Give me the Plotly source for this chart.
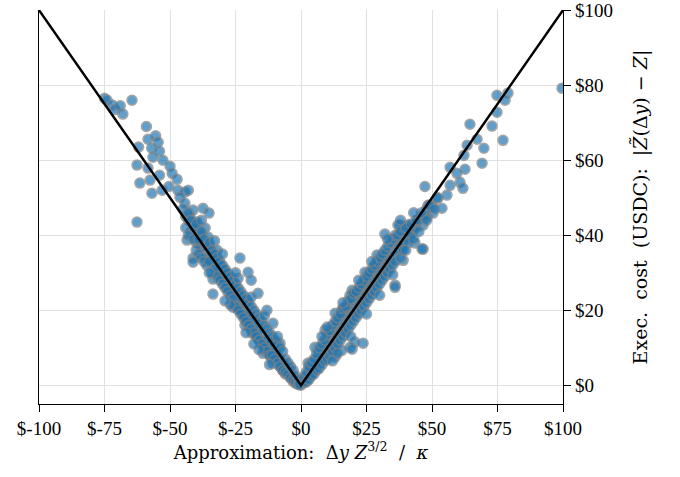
import plotly.graph_objects as go

# Scatter points: approximation (x) vs execution cost (y)
far_x = [-75, -74, -72, -71, -69, -68, -64.5, -59, -58.4, -55.5, -54.5, -62, -57, -54, -56.5, -52.7,
         -62.6, -58.4, -54, -50, -49.2, -47.3, -61.5, -57.6, -56.9, -53, -50.4, -47, -44.3, -43,
         -46.2, -44.3, -41.2, -37.4, -35.1, -42.4, -39.7, -36.6, -62.6, -35.5, -43.5, -32, -38.5,
         -41.2, -41.2, -33.6, -33.6, -23.3, -20.2, -19, -16.4, -20.6, -26, -21.4, -18.7, -13,
         -10.7, -14.5, -10.7, -8, -5.3, -3, -1.1]
far_y = [76.5, 76, 74.7, 73.5, 74.5, 72.3, 76, 69, 65.6, 66.5, 64.8, 63.5, 63.2, 62.4, 60.8, 60,
         58.7, 57.9, 56, 58.4, 56.5, 54.9, 53.9, 54.7, 51.2, 52, 53, 52, 51.5, 52,
         50.1, 48.5, 46.7, 47.2, 45.9, 45, 43.5, 41.9, 43.5, 39.5, 38.7, 36, 37.9,
         33.9, 32.8, 24.3, 28.3, 33.9, 30.1, 28, 24.5, 22.7, 20.8, 16, 13.9, 20,
         16.5, 8.5, 5.9, 11.2, 4, 2.1, 0.5]

band_left_x = [-44, -43, -42, -41, -40, -40, -39, -38, -38, -37, -36, -36, -35, -34, -34, -33, -32, -32,
               -31, -31, -30, -30, -29, -29, -28, -28, -27, -27, -26, -26, -25, -25, -24, -24, -23, -23,
               -22, -22, -21, -21, -20, -20, -19, -19, -18, -18, -17, -17, -16, -16, -15, -15, -14, -14,
               -13, -13, -12, -12, -11, -11, -10, -10, -9, -9, -8, -8, -7, -7, -6, -6, -5, -5, -4, -4,
               -3, -3, -2, -2, -1, -1, 0]
band_left_y = [45, 44, 41, 43, 40, 38, 41, 37, 40, 38, 36, 34, 37, 33, 35, 34, 31, 33,
               30, 32, 31, 29, 28, 30, 29, 26, 27, 25, 26, 24, 25, 22, 24, 21, 23, 20,
               21, 19, 22, 18, 19, 17, 18, 15, 17, 14, 16, 13, 15, 12, 14, 11, 12, 10,
               12, 9, 11, 8, 10, 7, 9, 7, 8, 6, 7, 5, 6, 4, 5, 3, 4, 3, 3, 2,
               2, 1, 1.5, 0.5, 0.5, 0.2, 0]

spread_left_x = [-45, -44, -43, -43, -42, -41, -41, -40, -40, -39, -39, -38, -38, -37, -37, -36, -36,
                 -35, -35, -34, -34, -33, -33, -32, -32, -31, -31, -30, -30, -29, -29, -28, -28, -27,
                 -27, -26, -26, -25, -25, -24, -24, -23, -23, -22, -22, -21, -21, -20, -20, -19, -19,
                 -18, -18, -17, -17, -16, -16, -15, -15, -14, -14, -13, -13, -12, -12, -11, -11, -10,
                 -10, -9, -9, -8, -8, -7, -7, -6, -6, -5, -5, -4, -4, -3, -3, -2, -2, -1, -1, -0.5]
spread_left_y = [47, 42, 46, 40, 44, 39, 42, 43, 36, 39, 35, 41, 34, 39, 33, 37, 32,
                 38, 33, 36, 30, 35, 31, 34, 29, 33, 28, 32, 27, 31, 26, 30, 25, 29,
                 24, 28, 23, 27, 21, 26, 20, 25, 19, 24, 18, 23, 17, 22, 16, 21, 15,
                 20, 14, 19, 13, 18, 12, 17, 11, 16, 10, 15, 9, 14, 8, 13, 8, 12,
                 7, 11, 6, 10, 5, 9, 4, 7, 3.5, 6, 3, 5, 2, 4, 1.5, 2.5, 1, 1.5, 0.3, 0.2]

extra_left_x = [-38, -35, -30, -27, -24, -21, -19, -16, -14, -12, -9, -33, -29, -25, -18]
extra_left_y = [44, 30, 35, 21.5, 28.5, 14, 23.5, 9.5, 18.5, 5.5, 13, 38.5, 22.5, 30, 11]

right_x = [32, 37.8, 40.8, 46.6, 43.5, 29, 32.8, 24.4, 35.9, 28.2, 19.5, 18.7, 15.6, 13, 9.2, 23.7,
           20.6, 18.7, 5.3, 15.6, 13, 2.7, 27, 29.4, 19.5,
           74.8, 79, 77.9, 74.8, 64.5, 72.9, 67.2, 77.1, 63.4, 69.8, 62.2, 69.1, 56.9, 62.6, 59.5,
           47.3, 56.9, 60.7, 61.8, 55.7, 52.3, 48.5, 53.8, 50.4, 48.1, 44.3, 46.6, 37, 40.5, 42.7,
           46.2, 35.9, 38.5, 39, 35.9, 32, 99.6]
right_y = [40.3, 42.7, 42.7, 36.3, 37.9, 34.7, 34.9, 30.1, 26.7, 31.5, 25.3, 24, 20, 19.2, 14.7, 11.2,
           11.5, 10.1, 10.1, 9.3, 7.5, 5.9, 27.5, 29.9, 9.6,
           77.3, 77.9, 76, 72.8, 69.6, 69.1, 65.6, 65.3, 64, 63.2, 61.3, 59.2, 58.1, 57.6, 56.5,
           53, 53.3, 54.1, 52.5, 50.7, 49.9, 48, 47.2, 45.9, 44.8, 44, 42.7, 42.7, 41.9, 41.3,
           36.3, 38.1, 36.5, 33.3, 26.1, 34.1, 79.2]

band_right_x = [1, 1.5, 2, 2, 3, 3, 4, 4, 5, 5, 6, 6, 7, 7, 8, 8, 9, 9, 10, 10, 11, 11, 12, 12,
                13, 13, 14, 14, 15, 15, 16, 16, 17, 17, 18, 18, 19, 19, 20, 20, 21, 21, 22, 22,
                23, 23, 24, 24, 25, 25, 26, 26, 27, 27, 28, 28, 29, 29, 30, 30, 31, 31, 32, 33,
                33, 34, 35, 35, 36, 37, 37, 38, 39, 40, 40, 41, 42, 43, 44, 45, 46, 47, 48, 50]
band_right_y = [0.8, 1, 1.5, 2.5, 2, 3.5, 3, 4.5, 4, 5.5, 5, 7, 6, 8, 7, 9.5, 8, 10, 9, 11.5, 10, 12.5, 11, 14,
                12, 15, 13, 16, 14, 17, 15, 18, 16, 19, 17, 20.5, 18, 21, 19, 22.5, 20, 23, 21, 24.5,
                22, 25, 23, 26.5, 24, 27, 25, 28.5, 26, 29, 27, 30.5, 28, 31, 29, 32, 30, 33, 31, 32,
                34, 33, 34, 36, 35, 36, 38, 37, 38, 39, 41, 40, 40, 42, 42, 44, 45, 45, 47, 48]

spread_right_x = [1, 2, 2, 3, 3, 4, 4, 5, 5, 6, 6, 7, 7, 8, 8, 9, 9, 10, 10, 11, 11, 12, 12, 13, 13,
                  14, 14, 15, 15, 16, 16, 17, 17, 18, 18, 19, 19, 20, 20, 21, 21, 22, 22, 23, 23, 24,
                  24, 25, 25, 26, 26, 27, 27, 28, 28, 29, 29, 30, 30, 31, 31, 32, 32, 33, 33, 34, 34,
                  35, 35, 36, 36, 37, 38, 38, 39, 40, 41, 42, 43, 44, 45, 46, 48, 49, 51, 52]
spread_right_y = [2, 3.5, 0.8, 5, 1.5, 6, 2.5, 7, 3, 8.5, 4, 10, 4.5, 11, 5.5, 12, 6.5, 13.5, 7, 14.5, 8,
                  16, 9, 17, 10, 18, 11, 19, 12, 20.5, 13, 21, 14, 22.5, 15, 23, 16, 24.5, 17, 25, 18,
                  26, 19, 27, 20, 28, 21, 29, 22, 30, 23, 31, 24, 32, 25, 33, 26, 34, 27, 35, 28, 36,
                  29, 37, 30, 38, 31, 39, 32, 40, 33, 40, 34, 41, 36, 42, 38, 43, 39, 44, 41, 46, 44,
                  48, 47, 50]

extra_right_x = [8, 12, 16, 19, 22, 25, 27, 30, 33, 35, 38, 40, 43, 14, 10]
extra_right_y = [13, 6.5, 22, 13, 28, 19, 33, 24, 39, 29.5, 44, 36, 46, 8.5, 15.5]

# Reference line y = |x|
line_x = [-100, 0, 100]
line_y = [100, 0, 100]

x_ticks = [-100, -75, -50, -25, 0, 25, 50, 75, 100]
x_ticktext = ["$-100", "$-75", "$-50", "$-25", "$0", "$25", "$50", "$75", "$100"]
y_ticks = [0, 20, 40, 60, 80, 100]
y_ticktext = ["$0", "$20", "$40", "$60", "$80", "$100"]

xs = (far_x + band_left_x + spread_left_x + extra_left_x
      + right_x + band_right_x + spread_right_x + extra_right_x)
ys = (far_y + band_left_y + spread_left_y + extra_left_y
      + right_y + band_right_y + spread_right_y + extra_right_y)

FONT = "Liberation Serif, DejaVu Serif, serif"
TFONT = "DejaVu Serif, Liberation Serif, serif"

fig = go.Figure()
fig.add_trace(go.Scatter(
    x=xs, y=ys, mode="markers",
    marker=dict(size=10, color="#1f77b4", opacity=0.7,
                line=dict(color="#808080", width=1.5)),
    showlegend=False, hoverinfo="skip"))
fig.add_trace(go.Scatter(
    x=line_x, y=line_y, mode="lines",
    line=dict(color="black", width=2.5), showlegend=False))

fig.update_layout(
    width=680, height=477,
    margin=dict(l=39, r=117, t=10, b=73),
    paper_bgcolor="white", plot_bgcolor="white",
    font=dict(family=FONT, size=19, color="black"),
    xaxis=dict(range=[-100, 100], tickvals=x_ticks, ticktext=x_ticktext, automargin=False,
               ticklabeloverflow="allow",
               showgrid=True, gridcolor="#e0e0e0", gridwidth=1, zeroline=False,
               showline=True, linecolor="black", linewidth=1.3, mirror=False,
               ticks="outside", ticklen=7, tickwidth=1.2, tickcolor="black",
               title=dict(text="Approximation:  Δ<i>y</i> <i>Z</i><sup>3/2</sup>  /  <i>κ</i>",
                          font=dict(family=TFONT, size=18), standoff=8)),
    yaxis=dict(range=[-5, 100.05], side="right", tickvals=y_ticks, ticktext=y_ticktext,
               automargin=False, ticklabeloverflow="allow",
               showgrid=True, gridcolor="#e0e0e0", gridwidth=1, zeroline=False,
               showline=True, linecolor="black", linewidth=1.3, mirror=True,
               ticks="outside", ticklen=7, tickwidth=1.2, tickcolor="black",
               title=dict(text="Exec.  cost  (USDC):  |<i>Z̃</i>(Δ<i>y</i>) − <i>Z</i>|",
                          font=dict(family=TFONT, size=19), standoff=21)),
)

# remove the default 8px page margin so the figure sits at the window's top-left corner
fig.write_html("out.html", config={"displayModeBar": False},
               post_script="document.body.style.margin='0';")
